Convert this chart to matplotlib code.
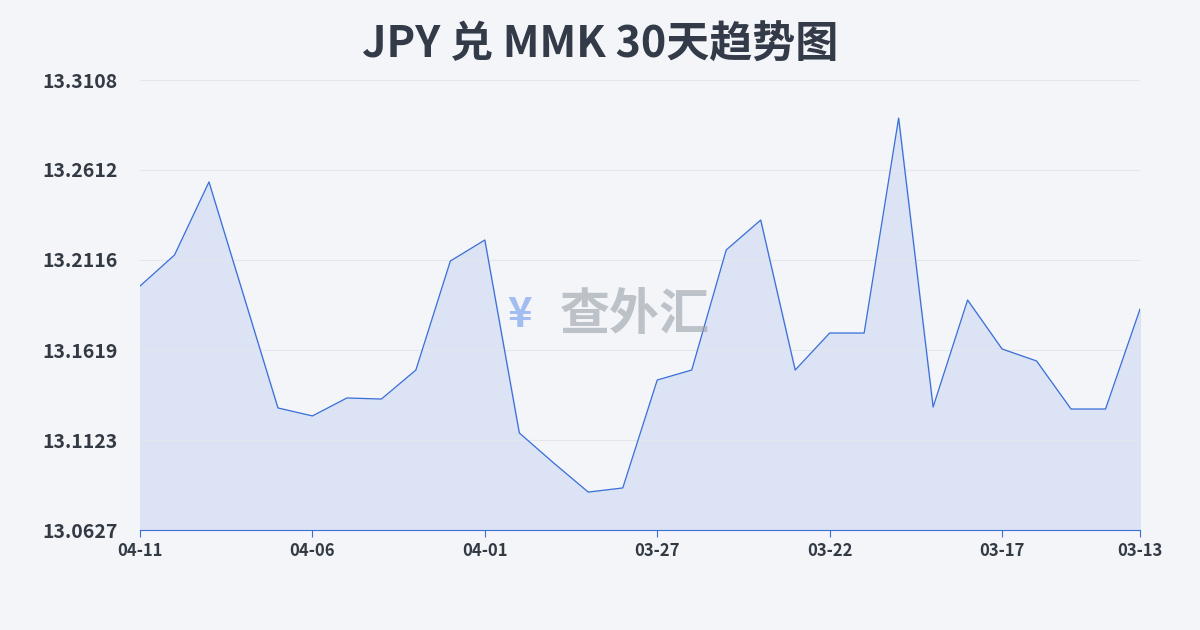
import matplotlib
matplotlib.use("Agg")
import matplotlib.pyplot as plt
import numpy as np

plt.rcParams['font.family'] = ['Noto Sans CJK SC', 'DejaVu Sans']

dates = ["04-11","04-10","04-09","04-08","04-07","04-06","04-05","04-04","04-03","04-02",
         "04-01","03-31","03-30","03-29","03-28","03-27","03-26","03-25","03-24","03-23",
         "03-22","03-21","03-20","03-19","03-18","03-17","03-16","03-15","03-14","03-13"]
values = [13.1972,13.2143,13.2546,13.1923,13.1300,13.1256,13.1355,13.1349,13.1509,13.2110,
          13.2226,13.1162,13.0996,13.0836,13.0859,13.1454,13.1509,13.2171,13.2336,13.1509,
          13.1713,13.1713,13.2898,13.1305,13.1895,13.1625,13.1559,13.1294,13.1294,13.1845]
yticks = [13.0627,13.1123,13.1619,13.2116,13.2612,13.3108]
xtick_labels = ["04-11","04-06","04-01","03-27","03-22","03-17","03-13"]

fig = plt.figure(figsize=(12,6.3), dpi=100)
fig.patch.set_facecolor('#f3f5f8')
ax = fig.add_axes([140/1200, 1-530/630, 1000/1200, 450/630])
ax.set_facecolor('none')
x = np.arange(len(values))
ax.fill_between(x, values, yticks[0], color='#d9e1f5', alpha=0.9)
ax.plot(x, values, color='#3a6fd8', lw=0.9)
ax.set_xlim(0, len(values)-1)
ax.set_ylim(yticks[0], yticks[-1])
ax.set_yticks(yticks)
ax.set_yticklabels([f"{v:.4f}" for v in yticks])
ax.yaxis.grid(True, color='#e3e6ea', lw=0.8)
ax.set_xticks([dates.index(d) for d in xtick_labels])
ax.set_xticklabels(xtick_labels)
for s in ['top','right','left']:
    ax.spines[s].set_visible(False)
ax.spines['bottom'].set_color('#3a6fd8')
ax.tick_params(axis='y', length=0, labelsize=14, colors='#333a44', pad=16)
ax.tick_params(axis='x', length=5, color='#3a6fd8', labelsize=12, colors='#333a44')
for t in ax.get_yticklabels()+ax.get_xticklabels():
    t.set_fontweight('bold')
fig.text(0.5, 1-45/630, "JPY 兑 MMK 30天趋势图", ha='center', va='center',
         fontsize=31, fontweight='bold', color='#333a48')
fig.text(635/1200, 1-315/630, "查外汇", ha='center', va='center', fontsize=36,
         fontweight='bold', color='#9aa0a8', alpha=0.6)
fig.text(520/1200, 1-315/630, "¥", ha='center', va='center', fontsize=30,
         fontweight='bold', color='#8fb0ee', alpha=0.8)
fig.savefig("out.png", dpi=100, facecolor=fig.get_facecolor())
